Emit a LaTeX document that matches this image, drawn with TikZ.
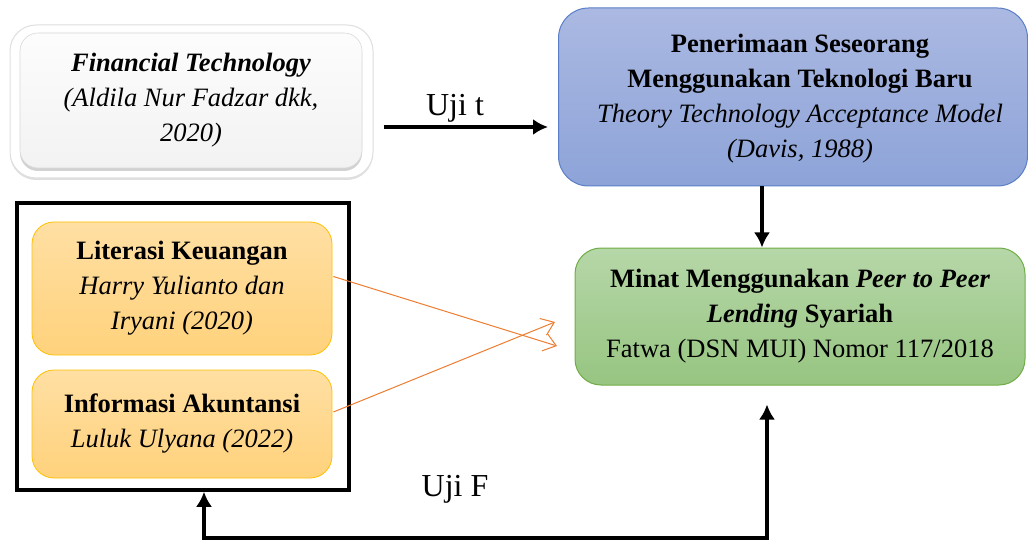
\documentclass[tikz,border=0pt]{standalone}
\usepackage{fontspec}
\setmainfont{Liberation Serif}
\usetikzlibrary{arrows.meta,shadows,calc}
\definecolor{bluetop}{HTML}{ABB9E2}
\definecolor{bluebot}{HTML}{8DA3D8}
\definecolor{blueline}{HTML}{5B7FC7}
\definecolor{greentop}{HTML}{B6D7A8}
\definecolor{greenbot}{HTML}{97C581}
\definecolor{greenline}{HTML}{70AD47}
\definecolor{orgtop}{HTML}{FFDFA3}
\definecolor{orgbot}{HTML}{FFD27C}
\definecolor{orgline}{HTML}{FFC000}
\definecolor{arrorange}{HTML}{ED7D31}
\tikzset{
  txt/.style={font=\fontsize{26.5}{35}\selectfont, align=center, inner sep=0pt},
  lbl/.style={font=\fontsize{32}{36}\selectfont, inner sep=0pt},
  bluebox/.style={txt, rounded corners=30pt, draw=blueline, line width=1pt, top color=bluetop, bottom color=bluebot, minimum width=469pt, minimum height=178pt},
  greenbox/.style={txt, rounded corners=26pt, draw=greenline, line width=1pt, top color=greentop, bottom color=greenbot, minimum width=450pt, minimum height=137pt},
  orgbox/.style={txt, rounded corners=22pt, draw=orgline, line width=0.8pt, top color=orgtop, bottom color=orgbot, minimum width=300pt},
  blk/.style={line width=4pt, -{Latex[length=15pt,width=16pt]}},
  oarr/.style={draw=arrorange, line width=1pt, -{Straight Barb[length=12pt,width=18pt]}},
}
\begin{document}
\begin{tikzpicture}[x=1pt,y=-1pt]
\useasboundingbox (0,0) rectangle (1028,540);
% Financial Technology frame
\node[rounded corners=26pt, fill=white, draw=gray!25, line width=1pt, minimum width=363pt, minimum height=153pt,
  drop shadow={shadow xshift=0pt, shadow yshift=-2pt, opacity=0.25}] (finframe) at (191.5,101.5) {};
\node[txt, rounded corners=18pt, top color=gray!2, bottom color=gray!10, draw=gray!30, line width=0.6pt,
  minimum width=342pt, minimum height=135pt,
  drop shadow={shadow xshift=0pt, shadow yshift=-3pt, opacity=0.35}] (fin) at (191,100.5)
  {\textbf{\textit{Financial Technology}}\\\textit{(Aldila Nur Fadzar dkk,}\\\textit{2020)}};
% Blue box
\node[bluebox] (tam) at (793,97) {};
\node[txt] (tamtxt) at (800,99)
  {\textbf{Penerimaan Seseorang}\\\textbf{Menggunakan Teknologi Baru}\\\textit{Theory Technology Acceptance Model}\\\textit{(Davis, 1988)}};
% Green box
\node[greenbox] (minat) at (800,316.5)
  {\textbf{Minat Menggunakan \textit{Peer to Peer}}\\\textbf{\textit{Lending} Syariah}\\Fatwa (DSN MUI) Nomor 117/2018};
% Black frame
\node[draw=black, line width=3.5pt, minimum width=332pt, minimum height=287pt] (grp) at (183,346.5) {};
% Orange boxes
\node[orgbox, minimum height=133pt] (lit) at (182,288.5)
  {\textbf{Literasi Keuangan}\\\textit{Harry Yulianto dan}\\\textit{Iryani (2020)}};
\node[orgbox, minimum height=108pt] (info) at (182,424)
  {\textbf{Informasi Akuntansi}\\\textit{Luluk Ulyana (2022)}};
% Labels
\node[lbl] (ujit) at (455,108) {Uji t};
\node[lbl] (ujif) at (455,489) {Uji F};
% Coordinates
\coordinate (ty) at (0,127);
\coordinate (gx) at (762,0);
\coordinate (c1) at (204,538);
\coordinate (c2) at (767,538);
\coordinate (o1) at (557,346);
\coordinate (o2) at (555,322);
% Connectors
\draw[blk, shorten <=10pt, shorten >=10pt] (finframe.east |- ty) -- (tam.west |- ty);
\draw[blk] (tam.south -| gx) -- (minat.north -| gx);
\draw[line width=4pt, {Latex[length=15pt,width=16pt]}-{Latex[length=15pt,width=16pt]}, shorten >=19pt]
  (grp.south -| c1) -- (c1) -- (c2) -- (minat.south -| c2);
\draw[oarr] ($(lit.east)+(1,-12)$) -- (o1);
\draw[oarr] ($(info.east)+(1,-12)$) -- (o2);
\end{tikzpicture}
\end{document}
